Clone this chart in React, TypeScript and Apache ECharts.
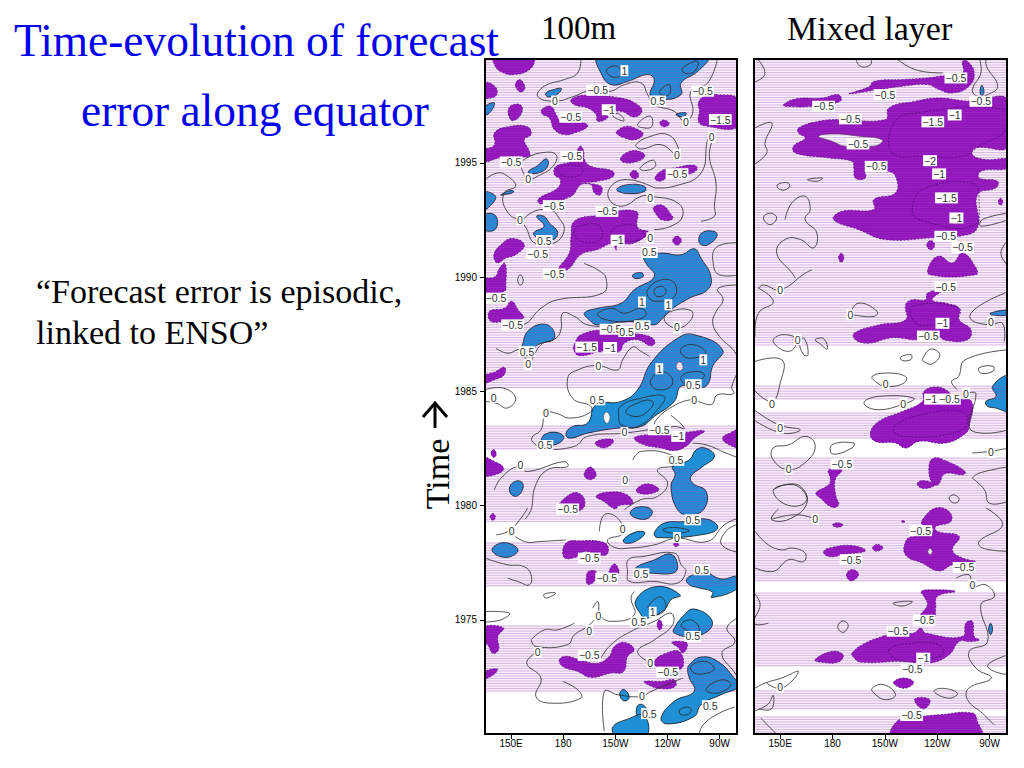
import React, { useEffect, useRef } from "react";
import * as echarts from "echarts";

const xTickValues = [150, 180, 210, 240, 270];
const xTickLabels = ["150E", "180", "150W", "120W", "90W"];
const yTickValues = [1975, 1980, 1985, 1990, 1995];

// Years covered by the hatched months [start, end]
const bandsUpper = [[1985.14, 1999.55], [1982.43, 1983.52], [1979.28, 1981.64], [1976.43, 1978.4], [1971.84, 1974.77]];
const bandsLower = [[1987.02, 1999.55], [1984.62, 1985.27], [1982.95, 1984.09], [1976.65, 1982.12], [1972.93, 1976.21], [1971.05, 1971.93], [1970, 1970.79]];

// Negative areas (lon, year, lon, year ...), 100 m
const purple100m = [
  [140, 1999.6, 162.5, 1999.6, 161.5, 1999.15, 152, 1998.87, 144, 1999, 140.5, 1999.3],
  [152.5, 1998.4, 155, 1998.65, 158, 1998.3, 155.5, 1998.1],
  [134, 1998.5, 140, 1998.4, 142, 1998.05, 139, 1997.85, 134, 1997.9],
  [148.5, 1997.35, 151, 1997.55, 156, 1997.5, 155.5, 1997.1, 151, 1996.85, 149, 1997],
  [167.6, 1997.33, 173, 1997.48, 175.9, 1997.12, 178.7, 1996.83, 192.2, 1996.75, 194, 1996.58, 186.4, 1996.31, 180.6, 1996.24, 174.9, 1996.46, 172, 1996.97, 168.2, 1997.12],
  [184.5, 1997.77, 192.2, 1997.96, 213.3, 1997.84, 222.8, 1997.55, 225.3, 1997.26, 220.9, 1997.01, 213.3, 1997.26, 205.6, 1997.16, 205.6, 1996.97, 199.8, 1996.83, 198.9, 1997.12, 194, 1997.41, 186.4, 1997.55],
  [257.8, 1997.63, 261.2, 1997.92, 268.9, 1997.99, 281, 1997.77, 281, 1996.6, 261.2, 1996.63, 257.8, 1996.82, 258.4, 1997.26],
  [235.5, 1996.75, 238, 1996.88, 241, 1996.72, 238, 1996.58],
  [211, 1996.4, 216, 1996.6, 222, 1996.5, 226, 1996.25, 221, 1996.02, 215, 1996.1, 210.5, 1996.3],
  [213, 1995.2, 218, 1995.5, 224, 1995.5, 227, 1995.3, 222, 1995.05, 215, 1995.02],
  [218.5, 1994.5, 221, 1994.68, 223.5, 1994.45, 221, 1994.3],
  [232.8, 1994.34, 237.2, 1994.68, 243.9, 1994.78, 255.4, 1994.9, 257, 1994.71, 251.6, 1994.49, 240, 1994.34, 235.3, 1994.2],
  [134, 1995.51, 140.4, 1995.8, 140.4, 1996.31, 148, 1996.58, 159.5, 1996.58, 161.5, 1996.24, 157.6, 1996.02, 160.5, 1995.51, 160.5, 1995.29, 151.9, 1995.29, 143.2, 1995.22, 134, 1995.07],
  [189.9, 1995.73, 191.8, 1995.51, 192.2, 1995.15, 196, 1994.85, 208.5, 1994.64, 208.5, 1994.39, 199.8, 1994.2, 190.2, 1994.12, 201.7, 1993.98, 201.4, 1993.61, 197.9, 1993.69, 196, 1994.05, 190.2, 1994.05, 184.5, 1993.54, 167.2, 1993.2, 165.7, 1993.42, 176.8, 1993.9, 178.3, 1994.27, 174.9, 1994.49, 175.9, 1994.85, 184.5, 1995.07, 187.4, 1995.44],
  [232, 1993.05, 237, 1993.15, 241.5, 1992.8, 243, 1992.55, 237, 1992.5, 233.5, 1992.75],
  [186.4, 1992.45, 199.8, 1992.7, 221.9, 1992.88, 222.8, 1992.16, 229, 1991.97, 220.9, 1991.5, 211.3, 1991.43, 210.4, 1991.18, 208.5, 1991.47, 199.8, 1991.21, 190.2, 1990.99, 182.6, 1990.33, 177.2, 1990.33, 183.5, 1991.06, 184.5, 1991.79],
  [140.4, 1991.06, 143.2, 1991.35, 150, 1991.69, 157.6, 1991.43, 152.9, 1990.99, 147.1, 1990.84, 142.3, 1990.62, 140.4, 1990.77],
  [243, 1991.6, 245.5, 1991.8, 248, 1991.6, 245.5, 1991.4],
  [134, 1989.88, 141, 1990.03, 143, 1990.35, 146.5, 1990.6, 147, 1989.7, 146, 1989.37, 134, 1989.37],
  [137.5, 1988.5, 146.2, 1988.64, 150.3, 1988.94, 153.8, 1988.6, 157.2, 1988.21, 148, 1988.13, 138.5, 1988.06],
  [186.4, 1987.04, 190.2, 1987.48, 205.6, 1987.7, 217.1, 1987.55, 228.6, 1987.43, 232.8, 1987.18, 230.5, 1986.99, 222.8, 1987.26, 215.2, 1987.11, 212.3, 1986.75, 201.7, 1986.75, 189.3, 1986.56, 186, 1986.82],
  [134, 1985.65, 141.3, 1985.87, 146.1, 1986.06, 146.1, 1985.73, 140.4, 1985.51, 134, 1985.36],
  [220.9, 1982.95, 228.6, 1983.1, 240.1, 1983.1, 247.8, 1983.17, 261.2, 1983.27, 255.4, 1982.95, 250.6, 1982.59, 243.9, 1982.41, 236.2, 1982.52, 226.7, 1982.66],
  [271.7, 1982.95, 276.5, 1983.2, 281, 1983.29, 281, 1982.59, 275.5, 1982.66],
  [198.5, 1982.75, 203, 1982.9, 209, 1982.85, 205, 1982.55, 200, 1982.6],
  [138.5, 1982.3, 140, 1982.45, 141.5, 1982.25, 140, 1982.1],
  [134, 1982.08, 140.4, 1981.93, 145.7, 1981.64, 142.4, 1981.39, 134, 1981.35],
  [192, 1981.35, 195.5, 1981.69, 199, 1981.35, 195.5, 1981.13],
  [222, 1980.65, 228, 1980.95, 235, 1980.7, 228, 1980.5],
  [199, 1980.4, 205, 1980.58, 216, 1980.5, 220, 1980.1, 212, 1980, 210, 1979.85, 203, 1980.2],
  [177, 1979.9, 184, 1980.5, 190, 1980.5, 192.5, 1980.1, 190, 1979.8, 183, 1979.8],
  [138, 1979.5, 139.5, 1979.65, 141, 1979.5, 139.5, 1979.35],
  [180.6, 1977.73, 181.6, 1978.36, 190.2, 1978.46, 203.6, 1978.38, 206.1, 1978.06, 203.6, 1977.82, 192.2, 1977.99, 188.4, 1977.77],
  [243.5, 1978.3, 245, 1978.4, 246.5, 1978.3, 245, 1978.2],
  [206.5, 1977.05, 209.5, 1977.45, 212, 1977.05],
  [193.5, 1976.95, 195, 1977.14, 199, 1977.1, 198, 1976.7, 194, 1976.56],
  [134, 1974.66, 145.7, 1974.64, 142.4, 1974.27, 142.8, 1973.69, 139.4, 1973.54, 136.5, 1973.91, 134, 1973.98],
  [234, 1974.8, 235.5, 1975, 237, 1974.75, 235.5, 1974.55],
  [242.5, 1974, 248, 1974.05, 251.5, 1973.95, 249, 1973.55, 246, 1973.8],
  [177.8, 1973.25, 181.6, 1973.4, 189.3, 1973.25, 199.8, 1973.1, 206.5, 1973.4, 209.4, 1973.83, 215.5, 1974.01, 220.9, 1973.69, 217.1, 1973.4, 214.8, 1972.74, 207.5, 1972.67, 196, 1972.48, 188.3, 1972.74, 179.7, 1972.96],
  [232.8, 1973.21, 237.2, 1973.47, 246.8, 1973.61, 248.2, 1972.88, 236.2, 1972.88, 233.3, 1972.96],
  [226.7, 1972.3, 236.3, 1972.3, 244, 1972.37, 244.4, 1972.08, 236.3, 1971.98, 228.7, 1972.16],
  [134, 1972.7, 142, 1972.85, 140, 1972.6, 134, 1972.42],
];

// Positive areas, 100 m
const blue100m = [
  [200.2, 1999.6, 262.7, 1999.6, 257.4, 1999.01, 247.8, 1998.5, 247.8, 1997.99, 236.3, 1997.77, 230.1, 1997.95, 232.4, 1998.65, 228.6, 1998.87, 217.1, 1998.57, 207.5, 1998.43, 201.7, 1998.94],
  [170, 1998.05, 174, 1998.2, 179, 1998.25, 175.5, 1997.95, 171, 1997.9],
  [134, 1997.4, 140, 1997.65, 140, 1997.45, 136, 1997.1, 134, 1997.15],
  [245, 1997.13, 250.5, 1997.2, 250, 1997.05, 246, 1997.05],
  [160, 1994.64, 165.3, 1994.88, 170.1, 1995.18, 171.4, 1994.93, 168.2, 1994.64, 161.5, 1994.53],
  [210.8, 1993.83, 217.1, 1994.05, 226.7, 1993.98, 227, 1993.76, 217.1, 1993.66],
  [144, 1993.6, 150, 1993.8, 151.5, 1993.72, 145.5, 1993.6],
  [134, 1993.7, 141, 1993.55, 139, 1993.2, 134, 1992.95],
  [134, 1992.7, 141, 1992.7, 141, 1992.1, 134, 1992.1],
  [164.7, 1992.66, 169, 1992.66, 172, 1992.37, 176.8, 1991.97, 174, 1991.64, 165.4, 1991.72, 163, 1991.94, 169, 1992.23],
  [258, 1991.6, 260, 1991.95, 267, 1992, 268.5, 1991.8, 264, 1991.45, 260, 1991.4],
  [192.2, 1988.43, 199.8, 1988.64, 213.3, 1988.86, 220.9, 1989.45, 232.4, 1990.03, 227.6, 1990.61, 226.7, 1990.9, 236.3, 1991.05, 247.8, 1990.98, 255.4, 1991.24, 259.3, 1990.83, 265, 1990.03, 263.1, 1989.45, 252.6, 1989.08, 242, 1988.57, 236.3, 1988.13, 232.4, 1987.91, 217.1, 1988.06, 199.8, 1987.91, 195, 1988.13],
  [220, 1990.1, 225, 1990.2, 226, 1990.02, 221, 1989.95],
  [156.3, 1986.97, 160.5, 1987.7, 171, 1987.91, 174.9, 1987.33, 165.3, 1987.04, 161.5, 1986.75, 156.7, 1986.82],
  [181.6, 1983.17, 185.4, 1983.46, 194, 1983.61, 198.9, 1984.41, 213.3, 1984.56, 222.8, 1985.07, 230.5, 1986.24, 245.9, 1987.33, 255.4, 1987.48, 271.7, 1986.82, 266, 1986.1, 263.1, 1985.3, 257.4, 1985.15, 247.8, 1985.22, 243.9, 1984.56, 232.4, 1983.9, 224.7, 1983.46, 211.3, 1983.39, 194, 1983.17, 183.5, 1982.95],
  [167.6, 1982.95, 171, 1983.17, 177.8, 1983.17, 180.3, 1982.95, 175, 1982.66, 168.2, 1982.73],
  [243, 1981.71, 252.6, 1982, 256.5, 1982.44, 262.2, 1982.51, 267, 1982.15, 260.3, 1981.71, 253.5, 1981.28, 254.5, 1980.98, 262.2, 1980.62, 261, 1979.85, 253, 1979.6, 246, 1979.8, 242, 1980.84, 244.4, 1981.35],
  [149, 1980.7, 152, 1981.05, 156.5, 1981, 156, 1980.6, 152, 1980.4],
  [218.6, 1979.7, 224, 1979.95, 231, 1979.8, 229, 1979.45, 222, 1979.45],
  [232.4, 1978.79, 238.1, 1979.23, 249.7, 1979.3, 263.1, 1979.4, 268.9, 1979.01, 259.3, 1978.72, 234.3, 1978.6],
  [214.6, 1978.5, 222, 1978.85, 227, 1978.8, 222, 1978.45, 216, 1978.35],
  [139, 1978.05, 146, 1978.38, 154, 1978.05, 147, 1977.73],
  [221.5, 1977.26, 232.4, 1977.62, 242, 1977.87, 245.9, 1977.33, 243, 1977.04, 229.5, 1977.04, 222.8, 1977],
  [251, 1976.79, 257.4, 1977.04, 261.2, 1977.12, 270.8, 1976.79, 281, 1976.89, 281, 1976.41, 265.4, 1975.97, 265.9, 1976.22, 257.4, 1976.41, 252.6, 1976.53],
  [221.9, 1975.88, 234.3, 1976.46, 247.4, 1976.07, 242, 1975.88, 238.2, 1975.44, 228.6, 1975.07, 224.8, 1975.22],
  [243.4, 1974.56, 249.7, 1975.22, 255.4, 1975.47, 265.4, 1975, 263.1, 1974.49, 251.6, 1974.27, 243.9, 1974.42],
  [252.6, 1973.03, 259.3, 1973.37, 268.9, 1973.18, 278.4, 1972.45, 281, 1972.08, 270.8, 1971.72, 259.3, 1971.28, 255.4, 1970.77, 240.1, 1970.44, 236.3, 1970.7, 243.9, 1971.43, 255.4, 1971.87, 252.6, 1972.45, 251.6, 1972.81],
  [222, 1971, 224, 1971.3, 228, 1971.1, 228, 1970.7, 224, 1970.7],
  [212.5, 1971.75, 215, 1971.95, 218, 1971.6, 215, 1971.45],
  [208.5, 1970.3, 217, 1970.65, 226.7, 1970.8, 227.6, 1969.9, 211, 1969.9],
];
const holes100m = [
  [203.2, 1983.9, 205, 1984.1, 207, 1983.85, 205, 1983.6],
  [245, 1986.1, 247, 1986.3, 249, 1986.05, 246.8, 1985.9],
];

// Zero and positive contour lines, 100 m
const lines100m = [
  [190.2, 1999.6, 188.3, 1998.94, 180.6, 1998.65, 169.1, 1998.36, 165.3, 1997.92, 174.9, 1997.7, 186.4, 1997.92, 194, 1998.14, 207.5, 1998.14, 215.2, 1998.43, 224.8, 1998.5, 228.6, 1997.99, 232.4, 1997.55, 243.9, 1997.26, 249.7, 1996.82, 254.5, 1997.19, 253.5, 1998.14, 263.1, 1998.5, 268.9, 1999.6],
  [134, 1994.2, 142, 1994.56, 148, 1994.42, 152.6, 1993.98, 146, 1993.69, 147, 1992.96, 155, 1992.52, 161.5, 1992.81, 167.2, 1992.96, 174, 1992.9, 176.8, 1992.67, 180.6, 1992.08, 174.9, 1991.5, 163.4, 1991.5, 158.6, 1992.16, 155, 1992.52],
  [232.4, 1993.91, 217.1, 1994.27, 207.5, 1993.98, 206.5, 1993.4, 214.2, 1993.11, 224.8, 1993.54, 230.5, 1993.54, 245.9, 1993.25, 248.7, 1992.67, 242, 1992.23, 232.4, 1992.08],
  [232.4, 1993.91, 243.9, 1993.98, 259.3, 1994.56, 263.1, 1996.02, 265.4, 1996.1],
  [266, 1996.02, 264.1, 1995.29, 267.9, 1994.12, 267, 1993.1, 267, 1992.67, 259.3, 1992.45],
  [281, 1991.5, 268, 1991.3, 266.5, 1990.5, 270, 1990.1, 281, 1990.1],
  [281, 1989.65, 269, 1989.5, 272, 1989, 268, 1988.5, 266, 1988, 270, 1987.4, 278, 1986.8, 281, 1986.4],
  [281, 1985.9, 277, 1985.2, 278, 1984.9, 268.5, 1984.84, 265.6, 1984.44, 258.7, 1984.53, 255.4, 1984.66, 243, 1984.34, 233, 1983.7, 233, 1983.4],
  [169.1, 1982.44, 165.3, 1982.59, 161.9, 1982.95, 167.2, 1983.32, 170.1, 1984.05, 176.8, 1984.02, 183.5, 1983.83, 195, 1984.05, 196, 1984.34, 185.4, 1984.7, 182.6, 1985.58, 188.3, 1985.94, 199.8, 1986.13, 211.3, 1985.94, 214.2, 1986.38, 220, 1986.94, 224.8, 1986.75, 229.6, 1986.53],
  [169.1, 1982.44, 186.4, 1982.59, 194, 1983.03, 215.2, 1983.17, 243.9, 1983.46, 249.7, 1983.39, 242, 1983.95],
  [254.5, 1982.73, 262.2, 1982.66, 273.7, 1982.3, 281, 1982.08],
  [220, 1982, 224.8, 1982.37, 242, 1982.22, 244.9, 1981.79, 234.3, 1981.57, 240.1, 1980.98, 234.3, 1980.4, 224.8, 1980.26, 215.2, 1979.82],
  [135, 1985.07, 145.7, 1985.14, 152.6, 1984.7, 147.8, 1984.27, 141.3, 1984.49, 134, 1984.56],
  [141.3, 1986.89, 148, 1986.67, 155.7, 1986.82, 159.9, 1986.24, 167.2, 1987.04, 175.9, 1987.33, 178.7, 1987.7, 179.7, 1988.42, 186.4, 1988.28, 194, 1987.91, 209.4, 1987.84],
  [143.2, 1988.06, 156.7, 1987.91, 167.2, 1988.64, 176.8, 1989.01, 202.7, 1989.3, 204.6, 1989.96, 199.8, 1990.32, 192, 1990.6],
  [140.4, 1980.69, 144.2, 1981.2, 153.8, 1981.71, 159.5, 1981.49, 180.6, 1981.93, 182.6, 1981.71, 171, 1981.57, 163.9, 1980.84, 161.5, 1979.82, 158, 1979.4],
  [135, 1977.7, 147.8, 1977.41, 157.4, 1977.33, 161.5, 1976.97, 160.5, 1976.53, 153.8, 1976.68, 148, 1976.82],
  [141.3, 1978.72, 148.8, 1978.89, 155.7, 1979.45, 159.5, 1979.89],
  [148.8, 1978.89, 157.6, 1978.43, 167.2, 1978.43, 181.6, 1978.5],
  [200.8, 1978.87, 203.7, 1979.6, 211.3, 1979.45, 214.2, 1978.79, 205.6, 1978.5, 209.4, 1978.17, 218, 1978.14, 232.4, 1978.28, 245, 1978.57, 263.1, 1978.43, 272.7, 1979.16, 281, 1979.45],
  [135, 1975.36, 149, 1975.29, 144.2, 1975, 134, 1974.9],
  [197, 1975.51, 199.9, 1975.8, 201.7, 1975.15, 209.4, 1974.93, 220.9, 1975.22, 219, 1975.95, 220.9, 1976.24],
  [161.5, 1974.12, 164.3, 1973.83, 182.5, 1973.91, 186.4, 1974.34, 194, 1974.71, 199.9, 1975.15],
  [161.5, 1974.12, 169.1, 1974.56, 176.8, 1974.56, 186.4, 1974.85],
  [165.3, 1973.61, 159, 1973.1, 167.2, 1972.45, 164.3, 1971.64, 172.9, 1971.35, 190.2, 1971.57, 188.3, 1971.94, 179.7, 1972.3],
  [201.7, 1973.32, 207.5, 1973.91, 219, 1974.49, 232.4, 1974.93, 242, 1975.29, 243, 1974.78, 232.4, 1974.12, 222.8, 1973.61, 230.5, 1973.1],
  [281, 1975.1, 274.2, 1974.64, 278.8, 1974.03, 271.3, 1973.54, 278.8, 1972.67, 281, 1972.4],
  [278.8, 1971.18, 270, 1970.92, 260.4, 1970.39, 258, 1969.9],
  [203.7, 1970.11, 203.7, 1971.86, 211.3, 1971.72, 224.8, 1971.64, 230.5, 1971.86, 243.9, 1972.3, 249, 1972.45],
  [281, 1979.2, 274, 1978.9, 271, 1978.3, 281, 1977.95],
];
const loops100m = [
  [222.8, 1996.7, 230, 1997.05, 231, 1996.6, 225, 1996.55],
  [208.5, 1997.1, 212, 1997.15, 215, 1996.85, 210.5, 1996.95],
  [221.9, 1995.8, 230.5, 1996.17, 240.1, 1996.24, 245.9, 1995.73, 245.5, 1995.36, 236.3, 1995.8, 224.8, 1995.61],
  [224.2, 1994.78, 231.5, 1995.12, 233, 1994.85, 226.7, 1994.66],
  [157.6, 1995.15, 167.2, 1995.44, 175.9, 1995.36, 174, 1994.85, 165.3, 1994.42, 159.5, 1994.27, 157.6, 1994.49, 155.7, 1994.93],
  [238.2, 1988.13, 242, 1988.5, 253.5, 1988.54, 253.5, 1988.13, 245.5, 1987.77],
  [153.8, 1989.88, 155.3, 1990.1, 157, 1989.85, 155.3, 1989.65],
  [169, 1976.12, 175.7, 1976.17, 170, 1975.95],
  [217.5, 1977.63, 225.8, 1977.77, 244, 1977.92, 247.9, 1977.41, 250.6, 1977.12, 245.5, 1976.6, 232.4, 1976.68, 218, 1976.68, 217, 1977.12],
  [228.6, 1989.45, 236.3, 1989.88, 244, 1989.74, 244, 1989.15, 234.3, 1988.94, 229.5, 1989.08],
  [232.4, 1989.45, 237.2, 1989.59, 239.1, 1989.3, 234.3, 1989.15],
  [199.8, 1988.35, 207.5, 1988.64, 215.2, 1988.42, 224.8, 1988.64, 227.6, 1988.35, 222, 1988.13, 210, 1988.06],
  [230.5, 1985.51, 235.3, 1985.87, 242, 1985.65, 242, 1985.22, 234.3, 1985.07, 230.5, 1985.29],
  [248, 1986.89, 255.4, 1987.04, 262.2, 1986.67, 253.4, 1986.45, 248.5, 1986.6],
  [248, 1985.65, 255.4, 1985.87, 261.2, 1985.73, 257.4, 1985.43, 249.7, 1985.36],
  [216, 1984.12, 225, 1984.56, 231.5, 1984.56, 230.5, 1984.27, 223, 1983.9],
  [212, 1983.86, 213, 1984.34, 224.8, 1984.7, 238.2, 1984.78, 234.3, 1984.2, 222.8, 1983.46, 213.3, 1983.54],
  [205, 1999.08, 211.3, 1999.23, 213, 1998.82, 207.5, 1998.79],
  [248.7, 1999.15, 257.4, 1999.45, 255.4, 1999, 249.7, 1998.94],
  [235.3, 1998.14, 241, 1998.43, 241, 1997.99, 236.3, 1997.99],
  [253.5, 1972.96, 261.2, 1973.18, 267, 1972.88, 263.1, 1972.67, 255.4, 1972.67],
  [262.2, 1971.94, 270.8, 1972.37, 276.5, 1972.16, 268.9, 1971.79],
  [247, 1971.06, 252.6, 1971.16, 253.2, 1970.92, 247.8, 1970.84],
  [237.2, 1978.94, 244, 1979.04, 252.6, 1978.9, 244, 1978.79],
  [247.8, 1974.78, 252.6, 1975, 257.4, 1974.78, 257.4, 1974.42, 250.7, 1974.56],
  [229, 1975.6, 236, 1976, 239, 1975.5, 233, 1975.2, 230, 1975.4],
];
const dashed100m = [
  [186.4, 1992.08, 199.8, 1992.3, 201.7, 1991.65, 190.2, 1991.58],
  [207.5, 1992, 219, 1992.3, 226.7, 1991.79, 213.3, 1991.58],
  [176.8, 1994.78, 190.2, 1994.85, 190.2, 1994.49, 180.6, 1994.42],
];

// Mixed layer
const purpleMixed = [
  [189.7, 1998.03, 200.8, 1998.33, 203.7, 1998.57, 220, 1998.65, 234.4, 1998.72, 241.1, 1998.79, 254.5, 1998.94, 254.5, 1999.45, 257.4, 1999.45, 261.2, 1998.94, 258.3, 1998.36, 248.7, 1998.06, 241.1, 1998.21, 234.4, 1998.43, 220, 1998.36, 206.5, 1998.21],
  [151.9, 1997.55, 158.6, 1997.8, 173.9, 1997.84, 183.5, 1997.99, 184.5, 1997.7, 168.2, 1997.48, 152.8, 1997.48],
  [160.5, 1996.53, 172, 1996.82, 183.5, 1996.9, 210.4, 1996.9, 212.3, 1997.41, 227.6, 1997.7, 241.1, 1997.84, 258.3, 1997.7, 281, 1997.77, 281, 1995.73, 262.2, 1995.66, 260.2, 1995.36, 267.9, 1995.15, 281, 1995.15, 281, 1994.78, 265, 1994.64, 264.1, 1994.34, 274.6, 1994.2, 273.7, 1993.91, 263.1, 1993.61, 263.1, 1992.16, 252.6, 1991.79, 237.2, 1991.72, 210.4, 1991.65, 195, 1992.08, 180.6, 1992.52, 185.4, 1992.88, 203.7, 1992.96, 203.7, 1993.4, 216.1, 1993.69, 216.1, 1994.42, 211.3, 1994.64, 198.9, 1994.71, 198.9, 1994.34, 193.1, 1994.34, 192.2, 1994.78, 191.2, 1995.07, 177.8, 1995.22, 158.6, 1995.44, 157.6, 1995.73, 164.3, 1996.09, 160.5, 1996.31],
  [275, 1993.3, 276.3, 1993.45, 277.6, 1993.3, 276.3, 1993.15],
  [234, 1991.4, 236.3, 1991.6, 238.5, 1991.4, 236.3, 1991.2],
  [183.5, 1990.85, 185, 1991.05, 186.5, 1990.85, 185, 1990.65],
  [235.7, 1990.55, 241.1, 1990.92, 248.7, 1990.62, 254.5, 1991.06, 262.2, 1990.41, 262.2, 1990.11, 235.7, 1990.11],
  [234.4, 1989.3, 243, 1989.45, 237.2, 1989.01, 244.9, 1988.86, 252.6, 1988.64, 252.6, 1988.13, 259.3, 1987.7, 257.4, 1987.26, 244.9, 1987.23, 240.1, 1987.4, 227.6, 1987.26, 220, 1987.33, 212.3, 1987.33, 200.8, 1987.11, 193.1, 1987.26, 192.5, 1987.55, 206.5, 1987.91, 221.9, 1988.13, 221.9, 1988.79, 225.7, 1989.01, 233.4, 1989.01],
  [201.7, 1983.17, 206.5, 1983.68, 220, 1984.12, 231.5, 1984.56, 232.4, 1985, 239.1, 1985.19, 244.9, 1985.07, 250.7, 1984.7, 259.7, 1984.56, 258.3, 1983.46, 256.4, 1983.17, 244.9, 1982.74, 229.6, 1982.81, 221.9, 1982.52, 216.1, 1982.74, 204.6, 1982.81],
  [235.3, 1981.71, 238.1, 1982.08, 245.8, 1981.93, 255.9, 1981.5, 255, 1981.35, 244.4, 1981.39, 240.5, 1980.91, 237.1, 1980.98],
  [228.5, 1980.95, 232, 1981.1, 238.5, 1980.9, 232, 1980.75],
  [170.5, 1980.55, 177.8, 1980.91, 178.8, 1981.16, 177.8, 1981.57, 185.4, 1981.57, 181.5, 1981.13, 182, 1980.4, 183.5, 1980.04, 179.7, 1979.93, 173, 1980.33],
  [174.9, 1977.99, 179.7, 1978.17, 191.2, 1978.25, 198.9, 1978.02, 187.4, 1977.87, 177.8, 1977.77],
  [180, 1979.15, 183, 1979.25, 186, 1979.15, 183, 1979.05],
  [203, 1978.15, 205.5, 1978.3, 209, 1978.15, 205, 1978],
  [188, 1976.95, 191, 1977.2, 195, 1977, 191, 1976.7],
  [219.5, 1979.3, 221, 1979.35, 221, 1979.25],
  [231.5, 1979.38, 239.1, 1979.89, 246.8, 1979.74, 247.8, 1979.3, 239.1, 1979.08, 240.1, 1978.87, 252.6, 1978.65, 248.7, 1978.06, 254.5, 1977.7, 261.8, 1977.55, 248.7, 1977.41, 241.1, 1977.14, 231.5, 1977.48, 221.9, 1977.84, 221.9, 1978.43, 225.7, 1978.65, 236.3, 1978.72, 237.2, 1979.08, 231.5, 1979.16],
  [230.9, 1976.24, 237.2, 1976.31, 250.3, 1976.24, 240.1, 1976.02, 239.1, 1975.51, 238.2, 1975.1, 230.5, 1975.15, 234.4, 1975.66, 232.4, 1976.02],
  [191.2, 1973.54, 197, 1973.91, 208.5, 1974.27, 216.1, 1974.42, 226.7, 1974.42, 230.5, 1974.64, 233.4, 1974.42, 254.5, 1974.27, 256.4, 1974.85, 260.2, 1974.93, 261.2, 1974.27, 264.1, 1974.12, 258.3, 1974.05, 252.6, 1974.05, 246.8, 1973.47, 235.3, 1973.1, 220, 1973.18, 196, 1973.15, 191.6, 1973.4],
  [169.9, 1973.25, 179.4, 1973.61, 186.1, 1973.47, 183.3, 1973.15, 172.8, 1973.15],
  [215, 1972.25, 221, 1972.45, 226.5, 1972.25, 221, 1972],
  [227, 1971.5, 232, 1971.6, 236, 1971.45, 232, 1971.1],
  [214.3, 1969.9, 218.1, 1970.62, 231.5, 1970.77, 241.1, 1970.84, 260.2, 1970.92, 263.1, 1970.55, 265, 1969.9],
];
const blueMixed = [
  [264.5, 1998.1, 265.6, 1998.4, 266.8, 1998.1, 265.6, 1997.95],
  [271.7, 1985.22, 281, 1985.65, 281, 1984.12, 276.5, 1984.19, 273.7, 1984.27, 268.9, 1984.34, 267.9, 1984.56, 273.7, 1984.78],
  [270.5, 1988.43, 281, 1988.55, 281, 1988.35, 271, 1988.35],
  [269.5, 1974.6, 270.6, 1974.85, 271.7, 1974.6, 270.6, 1974.35],
];
const holesMixed = [
  [172, 1996.17, 181.5, 1996.27, 195, 1996.17, 208.5, 1996.02, 206.5, 1995.8, 200.8, 1995.73, 187.3, 1995.73, 179.7, 1995.95],
  [234.6, 1977.99, 235.9, 1978.12, 237.2, 1977.99, 235.9, 1977.85],
];
const linesMixed = [
  [136.5, 1999.6, 141.3, 1998.94, 136.5, 1998.57, 134, 1998.6],
  [193.1, 1999.6, 196, 1999.23, 201.7, 1999.3, 202.2, 1999.6],
  [216.1, 1999.6, 227.6, 1999.08, 243, 1998.94],
  [264.1, 1999.6, 265, 1998.94, 260.2, 1998.21, 263.1, 1997.92, 268.9, 1997.99, 274.6, 1998.36, 268.3, 1999.23, 268, 1999.6],
  [135.6, 1996.53, 145.2, 1996.75, 141.3, 1995.88, 142.3, 1995.44, 135, 1994.93],
  [152.8, 1992.52, 156.7, 1993.25, 164.3, 1993.54, 167.2, 1992.96, 164.3, 1992.52, 171, 1991.94, 169.1, 1991.28, 161.5, 1991.65, 152.8, 1991.65, 148, 1991.06, 156.7, 1990.19, 158.6, 1989.97],
  [281, 1992.81, 265.9, 1992.52, 265, 1992.23, 281, 1992.52],
  [281, 1991.65, 276.5, 1991.06, 281, 1990.47],
  [137.5, 1989.52, 140.4, 1989.66, 150, 1989.45, 164.3, 1990.17, 168.2, 1990.32],
  [137.5, 1989.52, 146.1, 1988.93, 137.5, 1988.42, 135.6, 1987.4],
  [281, 1989.37, 263.7, 1988.72, 258.9, 1988.2, 269.7, 1987.91, 277.4, 1987.98, 278.4, 1987.18],
  [281, 1986.82, 256, 1986.38, 252.2, 1985.65, 248.2, 1985.43, 251.6, 1985.07],
  [135, 1986.3, 151, 1986.38, 150, 1985.36, 145.2, 1984.56, 135, 1985.07],
  [257.4, 1984.92, 262.2, 1984.9, 258.3, 1983.46, 266, 1983.17, 281, 1983.32],
  [135, 1984.2, 149, 1983.54, 161.5, 1983.32, 151, 1983.17, 135, 1983.75],
  [259.9, 1982.3, 269.8, 1982.37, 281, 1982.52],
  [260, 1981.2, 264, 1981.42, 281, 1981.7],
  [260, 1981.2, 267, 1980.7, 270, 1980.1, 281, 1980.2],
  [146.1, 1980.69, 152.8, 1980.91, 161.5, 1980.84, 165.3, 1980.11, 155, 1979.4, 145, 1979.4, 149, 1979.85],
  [145, 1979.4, 160, 1979.6, 172, 1979.35],
  [135.6, 1978.87, 143.2, 1978.28, 150.9, 1978.06, 156.7, 1978.14, 164.3, 1977.92, 163.4, 1977.55, 154.8, 1977.63, 146.2, 1977.12, 135, 1977.29],
  [135, 1976.17, 138.5, 1975.66, 135, 1974.85, 143.2, 1974.85],
  [250.7, 1976.82, 258.3, 1976.97, 260.2, 1976.46, 267.9, 1976.53, 272.7, 1976.02, 265, 1975.66, 268.9, 1974.05, 258.3, 1973.61, 262.2, 1972.88, 271, 1972.45, 258, 1972, 257.4, 1971.5, 266, 1970.9, 272.7, 1970.4],
  [268, 1979.89, 277.5, 1979.16, 264, 1978.43, 266, 1978.14, 281, 1978],
  [281, 1973.47, 268.9, 1973.03, 272.7, 1972.74, 281, 1972.6],
  [135.6, 1972, 141.3, 1972.23, 150.9, 1972.45, 160.5, 1972.74, 150.9, 1972, 142.3, 1972.23],
  [135, 1971, 143, 1971.3, 146, 1971.7, 145, 1971.1, 138, 1971.1],
  [139, 1970.7, 148, 1970, 151, 1969.9],
];
const loopsMixed = [
  [165.7, 1994.27, 174.1, 1994.34, 171.3, 1994.2],
  [148.4, 1994.05, 154.8, 1994.12, 154.8, 1993.9, 150, 1993.83],
  [140.4, 1992.6, 144.2, 1992.8, 148, 1992.6, 144.2, 1992.3],
  [189.7, 1988.35, 195, 1988.86, 205.6, 1988.5, 203.7, 1988.28, 190.6, 1988.35],
  [146, 1987.18, 151, 1987.48, 159.5, 1987.26, 155, 1986.75],
  [170, 1987.26, 175, 1987.3, 177, 1986.85, 172.5, 1987.1],
  [161, 1987.2, 164, 1987.3, 166, 1986.6, 163.5, 1986.6],
  [219, 1986.5, 225, 1986.6, 225, 1986.4, 220, 1986.35],
  [231.5, 1986.4, 236.3, 1986.85, 241.5, 1986.6, 237, 1986.2, 232.5, 1986.3],
  [202.7, 1985.65, 210.4, 1985.8, 221.9, 1985.65, 220.9, 1985.36, 210.4, 1985.22, 204.6, 1985.43],
  [264, 1986.03, 272, 1986.1, 272, 1985.88, 265, 1985.8],
  [198, 1984.5, 206.5, 1984.78, 226.7, 1984.7, 220, 1984.42, 205, 1984.2],
  [146, 1982.52, 155, 1982.66, 164.3, 1983.03, 170, 1982.66, 166, 1982, 155, 1981.57, 146, 1982],
  [179.7, 1982.66, 192.2, 1982.74, 191.2, 1982.52, 180, 1982.26],
  [246.8, 1980.33, 249.7, 1980.47, 252.6, 1980.26, 249.7, 1980.11],
  [146, 1980.6, 152, 1980.9, 161, 1980.8, 165, 1980.2, 155, 1980],
  [214.8, 1975.73, 225.7, 1975.8, 220, 1975.6],
  [183, 1974.7, 186, 1974.95, 189, 1974.75, 186, 1974.45],
  [202.7, 1972, 209.4, 1972.16, 216.1, 1971.72, 210.4, 1971.5, 203.7, 1971.79],
  [238.2, 1971.86, 243, 1972, 251.6, 1971.79, 246.8, 1971.57],
];
const dashedMixed = [
  [215.2, 1996.74, 227.6, 1997.19, 279.4, 1997.33, 279.4, 1996.46, 264, 1995.73, 254.5, 1995.29, 231.5, 1995.29, 214.2, 1995.44],
  [231.5, 1993.83, 260.2, 1994.12, 264, 1993.4, 260.2, 1992.23, 229.6, 1992.52, 225.7, 1992.96],
  [225.7, 1988.72, 252.6, 1988.64, 248.7, 1987.99, 237.2, 1987.91, 227.6, 1987.99],
  [215.2, 1983.46, 235.3, 1984.05, 255.4, 1984.05, 254.5, 1983.32, 220, 1983.03],
  [212.4, 1973.69, 225.7, 1973.98, 241, 1973.9, 243, 1973.47, 220, 1973.18],
];

const m05 = "\u22120.5", m1 = "\u22121", m15 = "\u22121.5", m2 = "\u22122";
// Contour labels [lon, year, text]
const labels100m: [number, number, string][] = [
  [215.2, 1999.04, "1"], [199.8, 1998.18, m05], [260.2, 1998.14, m05], [175.3, 1997.71, "0"], [234.4, 1997.71, "0.5"],
  [206.2, 1997.33, m1], [184.3, 1997, m05], [270.4, 1996.9, m15], [250.6, 1996.8, "0"], [265.4, 1996.12, "0"],
  [245.5, 1995.36, "0"], [184.9, 1995.29, m05], [150, 1995.04, m05], [245.5, 1994.53, m05], [159.9, 1994.3, "0"],
  [230.1, 1993.47, "0"], [174.8, 1993.13, m05], [205.2, 1992.88, m05], [155.1, 1992.52, "0"], [169.1, 1991.6, "0.5"],
  [211.3, 1991.62, m1], [230.1, 1991.72, "0"], [229.6, 1991.08, "0.5"], [165.3, 1991.02, m05], [174.8, 1990.14, m05],
  [141.3, 1989.08, m05], [225.3, 1988.91, "1"], [240.5, 1988.79, "1"], [150.9, 1987.91, m05], [207.5, 1987.72, m05],
  [216.5, 1987.62, "0.5"], [225.5, 1987.87, "0.5"], [245.5, 1987.8, "0"], [193.5, 1986.94, m15], [207, 1986.92, m1],
  [159.2, 1986.74, "0.5"], [159.9, 1986.18, "0"], [260.6, 1986.38, "1"], [200.2, 1986.13, "0"], [235.3, 1985.99, "1"],
  [254.9, 1985.29, "0.5"], [140, 1984.73, "0"], [199.5, 1984.63, "0.5"], [255.4, 1984.6, "0"], [170.1, 1984.05, "0"],
  [235.3, 1983.32, m05], [215.2, 1983.2, "0"], [246.2, 1983.03, m1], [169.5, 1982.63, "0.5"], [244.9, 1981.98, "0.5"],
  [155.4, 1981.76, "0"], [215.6, 1981.1, "0"], [182.6, 1979.85, m05], [254.5, 1979.38, "0.5"], [150.3, 1978.87, "0"],
  [214.2, 1978.97, "0"], [245.5, 1978.6, "0"], [195, 1977.7, m05], [224.8, 1977.01, "0.5"], [259.7, 1977.19, "0.5"],
  [205, 1976.82, m05], [200.2, 1975.15, "0"], [231.5, 1975.33, "1"], [223.5, 1974.9, "0.5"], [195, 1974.53, "0"],
  [254.5, 1974.27, "0.5"], [195, 1973.44, m05], [165.3, 1973.57, "0"], [230.1, 1973.13, "0"], [240.1, 1972.71, m05],
  [264.6, 1971.24, "0.5"], [225.3, 1971.67, "0"], [229.6, 1970.89, "0.5"],
];
const labelsMixed: [number, number, string][] = [
  [250.7, 1998.72, m05], [210, 1997.99, m05], [265, 1997.7, m05], [174.9, 1997.48, m05], [190.2, 1996.93, m05],
  [237.5, 1996.8, m15], [250, 1997.1, m1], [194.6, 1995.83, m05], [235.9, 1995.1, m2], [205, 1994.85, m05],
  [241.1, 1994.52, m1], [245.3, 1993.47, m15], [251, 1992.59, m1], [244.9, 1991.79, m05], [254.5, 1991.3, m05],
  [244.9, 1989.59, m05], [150, 1989.45, "0"], [190.2, 1988.35, "0"], [270.8, 1988.03, "0"], [243, 1987.98, m1],
  [234.9, 1987.42, m05], [160.1, 1987.26, "0"], [210.4, 1985.32, "0"], [236.5, 1984.66, m1], [247, 1984.66, m05],
  [256.5, 1984.9, "0"], [220.5, 1984.46, "0"], [145.2, 1984.46, "0"], [150, 1983.39, "0"], [270.8, 1982.33, "0"],
  [185.4, 1981.82, m05], [154.8, 1981.61, "0"], [170.1, 1979.41, "0"], [230.5, 1978.9, m05], [190.6, 1977.63, m05],
  [255.4, 1977.29, m05], [260.2, 1976.53, "0"], [232.5, 1974.98, m05], [217.5, 1974.5, m05], [232, 1973.32, m1],
  [225.7, 1972.85, m05], [150, 1972.05, "0"], [225.3, 1970.81, m05],
];

const PURPLE = "#9414bd";
const BLUE = "#1f8fd6";
const LINE = "#2a2a2a";

const points = (api: any, flat: number[]) => {
  const out: number[][] = [];
  for (let i = 0; i < flat.length; i += 2) out.push(api.coord([flat[i], flat[i + 1]]));
  return out;
};

function shapeSeries(idx: number, shapes: number[][], kind: "polygon" | "polyline", style: any, z: number) {
  return {
    type: "custom", xAxisIndex: idx, yAxisIndex: idx, clip: true, silent: true, z,
    data: shapes.map((s, i) => [s[0], s[1], i]),
    renderItem: (p: any, api: any) => ({
      type: kind,
      shape: { points: points(api, shapes[p.dataIndex]), smooth: 0.45 },
      style,
    }),
  };
}

function bandSeries(idx: number, bands: number[][], mode: "fill" | "lines", z: number) {
  return {
    type: "custom", xAxisIndex: idx, yAxisIndex: idx, clip: true, silent: true, z,
    data: bands.map((b) => [135, b[0], b[1]]),
    renderItem: (p: any, api: any) => {
      const b = bands[p.dataIndex];
      const [x0, yBottom] = api.coord([135, b[0]]);
      const [x1, yTop] = api.coord([280, b[1]]);
      if (mode === "fill") {
        return { type: "rect", shape: { x: x0, y: yTop, width: x1 - x0, height: yBottom - yTop }, style: { fill: "#f9f0fb" } };
      }
      const children: any[] = [];
      for (let y = yTop + 1; y < yBottom; y += 2.5) {
        children.push({ type: "line", shape: { x1: x0, y1: y, x2: x1, y2: y }, style: { stroke: "rgba(150,70,180,0.42)", lineWidth: 0.8 } });
      }
      return { type: "group", children };
    },
  };
}

function labelSeries(idx: number, rows: [number, number, string][]) {
  return {
    type: "custom", xAxisIndex: idx, yAxisIndex: idx, silent: true, z: 9,
    data: rows.map((r) => [r[0], r[1]]),
    renderItem: (p: any, api: any) => {
      const r = rows[p.dataIndex];
      const [x, y] = api.coord([r[0], r[1]]);
      return {
        type: "text", x, y,
        style: { text: r[2], fill: "#333", font: "10.5px 'Liberation Sans'", align: "center", verticalAlign: "middle", backgroundColor: "#fff", padding: [0, 1] },
      };
    },
  };
}

function panelSeries(idx: number, d: { bands: number[][]; purple: number[][]; blue: number[][]; holes: number[][]; lines: number[][]; loops: number[][]; dashed: number[][]; labels: [number, number, string][] }) {
  const thin = { fill: "none", stroke: LINE, lineWidth: 0.8 };
  return [
    bandSeries(idx, d.bands, "fill", 1),
    shapeSeries(idx, d.purple, "polygon", { fill: PURPLE, stroke: "#5b0a86", lineWidth: 0.8, lineDash: [2, 1.5] }, 3),
    shapeSeries(idx, d.blue, "polygon", { fill: BLUE, stroke: "#111", lineWidth: 0.8 }, 3),
    shapeSeries(idx, d.holes, "polygon", { fill: "#fbf6fc", stroke: "#444", lineWidth: 0.6 }, 4),
    bandSeries(idx, d.bands, "lines", 5),
    shapeSeries(idx, d.lines, "polyline", thin, 6),
    shapeSeries(idx, d.loops, "polygon", thin, 6),
    shapeSeries(idx, d.dashed, "polygon", { fill: "none", stroke: "#4a0570", lineWidth: 0.7, lineDash: [2, 1.5] }, 6),
    labelSeries(idx, d.labels),
  ];
}

const serif = "'Liberation Serif'";
const tickLabelStyle = { color: "#000", fontFamily: "'Liberation Sans'", fontSize: 10, fontWeight: 500 };

function xAxis(gridIndex: number) {
  return {
    type: "value", gridIndex, min: 135, max: 280, splitLine: { show: false },
    axisLine: { show: false },
    axisTick: { length: 5, customValues: xTickValues, lineStyle: { color: "#000" } },
    axisLabel: { ...tickLabelStyle, margin: 4, customValues: xTickValues, formatter: (v: number) => xTickLabels[xTickValues.indexOf(v)] },
  };
}

export default function App() {
  const ref = useRef<HTMLDivElement>(null);
  useEffect(() => {
    const chart = echarts.init(ref.current!, undefined, { renderer: "svg" });
    chart.setOption({
      animation: false,
      backgroundColor: "#fff",
      grid: [
        { left: 485, top: 59, width: 252, height: 675, show: false },
        { left: 754, top: 59, width: 253, height: 675, show: false },
      ],
      xAxis: [xAxis(0), xAxis(1)],
      yAxis: [
        {
          type: "value", gridIndex: 0, min: 1970, max: 1999.55, splitLine: { show: false }, axisLine: { show: false },
          axisTick: { length: 5, customValues: yTickValues, lineStyle: { color: "#000" } },
          axisLabel: { ...tickLabelStyle, margin: 8, customValues: yTickValues, formatter: (v: number) => String(v) },
        },
        { type: "value", gridIndex: 1, min: 1970, max: 1999.55, show: false },
      ],
      series: [
        ...panelSeries(0, { bands: bandsUpper, purple: purple100m, blue: blue100m, holes: holes100m, lines: lines100m, loops: loops100m, dashed: dashed100m, labels: labels100m }),
        ...panelSeries(1, { bands: bandsLower, purple: purpleMixed, blue: blueMixed, holes: holesMixed, lines: linesMixed, loops: loopsMixed, dashed: dashedMixed, labels: labelsMixed }),
      ],
      graphic: [
        { type: "rect", z: 20, shape: { x: 485, y: 59, width: 252, height: 675 }, style: { fill: "none", stroke: "#000", lineWidth: 2 } },
        { type: "rect", z: 20, shape: { x: 754, y: 59, width: 253, height: 675 }, style: { fill: "none", stroke: "#000", lineWidth: 2 } },
        { type: "text", x: 14, y: 18, style: { text: "Time-evolution of forecast", fill: "#0000ee", font: `45.4px ${serif}` } },
        { type: "text", x: 81, y: 88, style: { text: "error along equator", fill: "#0000ee", font: `45.4px ${serif}` } },
        { type: "text", x: 541, y: 11, style: { text: "100m", fill: "#000", font: `33px ${serif}` } },
        { type: "text", x: 787, y: 11, style: { text: "Mixed layer", fill: "#000", font: `34px ${serif}` } },
        { type: "text", x: 36, y: 274, style: { text: "\u201cForecast error is episodic,", fill: "#000", font: `34px ${serif}` } },
        { type: "text", x: 36, y: 315, style: { text: "linked to ENSO\u201d", fill: "#000", font: `34px ${serif}` } },
        { type: "text", x: 437, y: 474, rotation: Math.PI / 2, style: { text: "Time", fill: "#000", font: `34px ${serif}`, align: "center", verticalAlign: "middle" } },
        { type: "polyline", shape: { points: [[423, 417], [435, 403], [447, 417]] }, style: { fill: "none", stroke: "#000", lineWidth: 3 } },
        { type: "line", shape: { x1: 435, y1: 403, x2: 435, y2: 428 }, style: { stroke: "#000", lineWidth: 3 } },
      ],
    });
    return () => chart.dispose();
  }, []);
  return <div ref={ref} style={{ position: "absolute", left: 0, top: 0, width: 1024, height: 768 }} />;
}
